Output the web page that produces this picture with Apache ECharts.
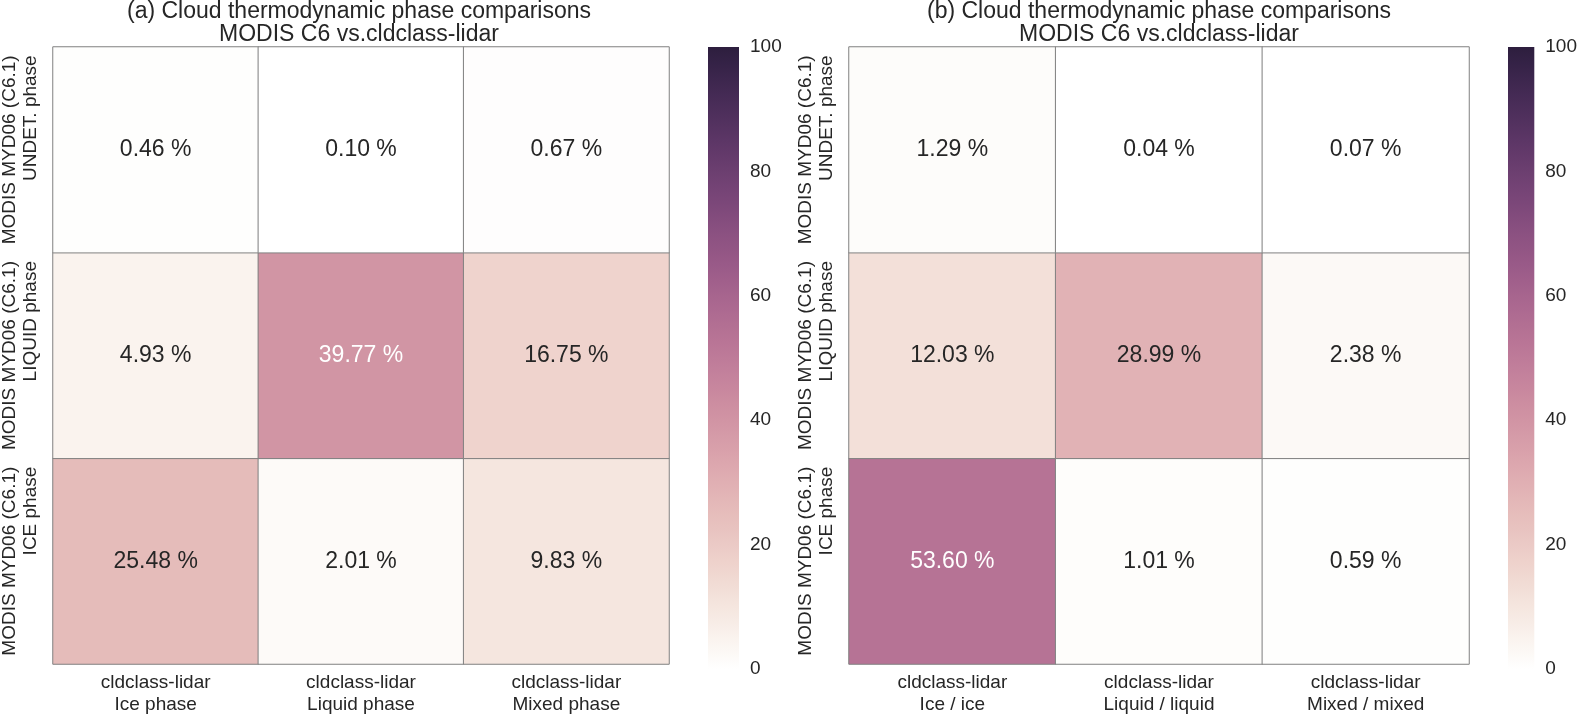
<!DOCTYPE html>
<html>
<head>
<meta charset="utf-8">
<script src="https://cdn.jsdelivr.net/npm/echarts@6/dist/echarts.min.js"></script>
<style>
html,body{margin:0;padding:0;background:#fff;}
#chart{width:1580px;height:716px;}
</style>
</head>
<body>
<div id="chart"></div>
<script>
// ---- data ----
const xCatsA = ['cldclass-lidar\nIce phase', 'cldclass-lidar\nLiquid phase', 'cldclass-lidar\nMixed phase'];
const xCatsB = ['cldclass-lidar\nIce / ice', 'cldclass-lidar\nLiquid / liquid', 'cldclass-lidar\nMixed / mixed'];
const yCats = ['ICE phase', 'LIQUID phase', 'UNDET. phase']; // bottom -> top
const yPrefix = 'MODIS MYD06 (C6.1)';
// rows: bottom (ICE) -> top (UNDET)
const aIce    = [25.48, 2.01, 9.83];
const aLiquid = [4.93, 39.77, 16.75];
const aUndet  = [0.46, 0.10, 0.67];
const bIce    = [53.60, 1.01, 0.59];
const bLiquid = [12.03, 28.99, 2.38];
const bUndet  = [1.29, 0.04, 0.07];
const titleA = '(a) Cloud thermodynamic phase comparisons\nMODIS C6 vs.cldclass-lidar';
const titleB = '(b) Cloud thermodynamic phase comparisons\nMODIS C6 vs.cldclass-lidar';
const cbarMin = 0, cbarMax = 100, cbarStep = 20;

// ---- colormap (seaborn cubehelix, light=1, dark=0.15) ----
function cubehelix(v) {
  const light = 1.0, dark = 0.15, start = 0, rot = 0.4, hue = 0.8;
  const x = light + (dark - light) * (v - cbarMin) / (cbarMax - cbarMin);
  const phi = 2 * Math.PI * (start / 3 + rot * x);
  const a = hue * x * (1 - x) / 2;
  const c = Math.cos(phi), s = Math.sin(phi);
  let r = x + a * (-0.14861 * c + 1.78277 * s);
  let g = x + a * (-0.29227 * c - 0.90649 * s);
  let b = x + a * (1.97294 * c);
  const cl = t => Math.max(0, Math.min(1, t));
  return [cl(r), cl(g), cl(b)];
}
function toHex(rgb) {
  return '#' + rgb.map(t => Math.round(t * 255).toString(16).padStart(2, '0')).join('');
}
function lum(rgb) {
  const f = t => t <= 0.03928 ? t / 12.92 : Math.pow((t + 0.055) / 1.055, 2.4);
  return 0.2126 * f(rgb[0]) + 0.7152 * f(rgb[1]) + 0.0722 * f(rgb[2]);
}
const stopsN = 40;
const rangeColors = [];
for (let i = 0; i <= stopsN; i++) rangeColors.push(toHex(cubehelix(cbarMin + (cbarMax - cbarMin) * i / stopsN)));
const gradStops = [];
for (let i = 0; i <= stopsN; i++) gradStops.push({offset: i / stopsN, color: toHex(cubehelix(cbarMax - (cbarMax - cbarMin) * i / stopsN))});

function buildData(rows) {
  const out = [];
  rows.forEach((row, yi) => row.forEach((v, xi) => {
    const tc = lum(cubehelix(v)) > 0.408 ? '#262626' : '#ffffff';
    out.push({value: [xi, yi, v], label: {color: tc}});
  }));
  return out;
}
const dataA = buildData([aIce, aLiquid, aUndet]);
const dataB = buildData([bIce, bLiquid, bUndet]);

const FONT = 'Liberation Sans, Arial, sans-serif';
const TXT = '#262626';

const heatTop = 47, heatH = 622, heatW = 620;
const leftA = 49, leftB = 849, cbA = 708, cbB = 1508;
const grids = [
  {left: leftA, top: heatTop, width: heatW, height: heatH},
  {left: cbA, top: heatTop, width: 31, height: heatH},
  {left: leftB, top: heatTop, width: heatW, height: heatH},
  {left: cbB, top: heatTop, width: 31, height: heatH}
];

function xAxisHeat(idx, cats) {
  return {
    type: 'category', gridIndex: idx, data: cats, position: 'bottom',
    axisLine: {show: false}, axisTick: {show: false}, splitLine: {show: false},
    axisLabel: {fontSize: 19, lineHeight: 22, color: TXT, fontFamily: FONT, margin: 8, interval: 0}
  };
}
function yAxisHeat(idx) {
  return {
    type: 'category', gridIndex: idx, data: yCats,
    axisLine: {show: false}, axisTick: {show: false}, splitLine: {show: false},
    axisLabel: {
      rotate: 90, margin: 12, interval: 0, color: TXT, fontFamily: FONT,
      formatter: v => '{l|' + yPrefix + '}\n{l|' + v + '}',
      rich: {l: {fontSize: 19, lineHeight: 21, align: 'right', color: TXT, fontFamily: FONT}}
    }
  };
}
function xAxisBar(idx) {
  return {type: 'category', gridIndex: idx, data: ['c'], show: false, boundaryGap: false};
}
function yAxisBar(idx) {
  return {
    type: 'value', gridIndex: idx, min: cbarMin, max: cbarMax, interval: cbarStep, position: 'right',
    axisLine: {show: false}, axisTick: {show: false}, splitLine: {show: false},
    axisLabel: {fontSize: 19, color: TXT, fontFamily: FONT, margin: 11}
  };
}
const labelCfg = {
  show: true, fontSize: 23, fontFamily: FONT,
  formatter: p => p.value[2].toFixed(2) + ' %'
};
const itemCfg = {borderColor: '#808080', borderWidth: 1};
const titleStyle = {fontSize: 23, lineHeight: 23, fontWeight: 'normal', color: TXT, fontFamily: FONT};

const option = {
  animation: false,
  backgroundColor: '#ffffff',
  title: [
    {text: titleA, left: leftA + heatW / 2, top: 0, padding: 0, textAlign: 'center', textStyle: titleStyle},
    {text: titleB, left: leftB + heatW / 2, top: 0, padding: 0, textAlign: 'center', textStyle: titleStyle}
  ],
  grid: grids,
  xAxis: [xAxisHeat(0, xCatsA), xAxisBar(1), xAxisHeat(2, xCatsB), xAxisBar(3)],
  yAxis: [yAxisHeat(0), yAxisBar(1), yAxisHeat(2), yAxisBar(3)],
  visualMap: {
    show: false, type: 'continuous', min: cbarMin, max: cbarMax, dimension: 2,
    seriesIndex: [0, 2], inRange: {color: rangeColors}
  },
  series: [
    {type: 'heatmap', xAxisIndex: 0, yAxisIndex: 0, data: dataA, label: labelCfg, itemStyle: itemCfg, emphasis: {disabled: true}},
    {type: 'bar', xAxisIndex: 1, yAxisIndex: 1, data: [cbarMax], barWidth: '100%', silent: true,
     itemStyle: {color: new echarts.graphic.LinearGradient(0, 0, 0, 1, gradStops)}},
    {type: 'heatmap', xAxisIndex: 2, yAxisIndex: 2, data: dataB, label: labelCfg, itemStyle: itemCfg, emphasis: {disabled: true}},
    {type: 'bar', xAxisIndex: 3, yAxisIndex: 3, data: [cbarMax], barWidth: '100%', silent: true,
     itemStyle: {color: new echarts.graphic.LinearGradient(0, 0, 0, 1, gradStops)}}
  ]
};
const chart = echarts.init(document.getElementById('chart'), null, {renderer: 'canvas'});
chart.setOption(option);
</script>
</body>
</html>
